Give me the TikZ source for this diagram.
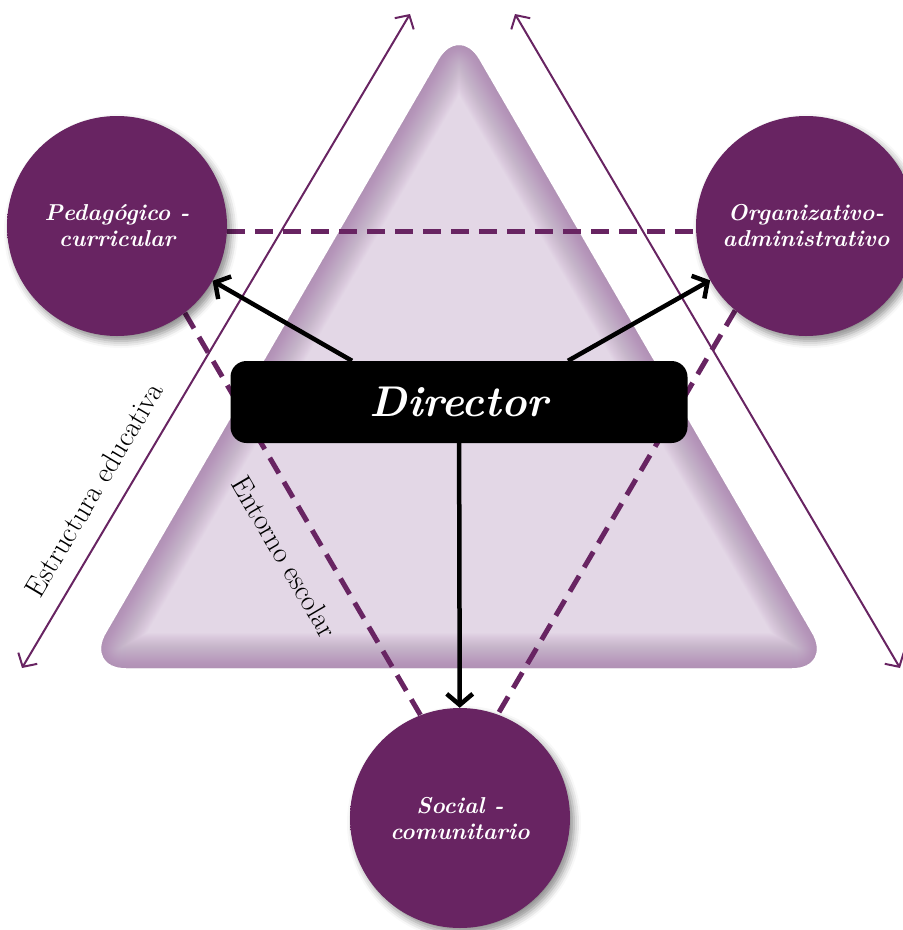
\documentclass[tikz,border=0pt]{standalone}
\usepackage{fontspec}
\usetikzlibrary{arrows.meta,calc,shadows.blur}
\definecolor{plum}{RGB}{104,36,98}
\definecolor{plumdark}{RGB}{76,22,72}
\definecolor{lilac}{RGB}{227,215,230}
\definecolor{lilacdark}{RGB}{146,100,152}
\pgfdeclareradialshading{ballshade}{\pgfpoint{0bp}{0bp}}{color(0bp)=(plum); color(30bp)=(plum); color(50bp)=(plumdark)}
\pgfdeclarelayer{background}
\pgfsetlayers{background,main}
\begin{document}
\begin{tikzpicture}[x=1pt,y=-1pt,
	ball/.style={circle, minimum size=220pt, inner sep=0pt, shading=ballshade, text=white, align=center,
		font=\fontsize{23}{26}\selectfont\bfseries\itshape,
		blur shadow={shadow xshift=4pt, shadow yshift=-5pt, shadow blur radius=7pt, shadow opacity=45}},
	boss/.style={rectangle, rounded corners=16pt, fill=black, text=white, minimum width=457pt, minimum height=82pt,
		font=\fontsize{43}{48}\selectfont\bfseries\itshape},
	bossarrow/.style={draw=black, line width=4.5pt, ->, >={Straight Barb[length=11pt,width=26pt]}},
	long/.style={draw=plum, line width=2pt, <->, >={Straight Barb[length=10pt,width=22pt]}},
	dashline/.style={draw=plum, line width=5pt, dash pattern=on 18pt off 10pt},
	sidetext/.style={font=\fontsize{29}{34}\selectfont, text=black}]
	\useasboundingbox (0,0) rectangle (903,930);

	\node[ball] (ped) at (117,226) {Pedagógico -\\curricular};
	\node[ball] (org) at (806,226) {Organizativo-\\administrativo};
	\node[ball] (soc) at (460,818) {Social -\\comunitario};
	\node[boss] (dir) at (459,402) {Director};

	\coordinate (sw) at (22,668);
	\coordinate (nw) at (410,14);
	\coordinate (ne) at (515,14);
	\coordinate (se) at (900,668);

	\begin{pgfonlayer}{background}
		% triangle with a soft inner edge
		\begin{scope}
			\clip[rounded corners=40pt] (459,25) -- (832,668) -- (86,668) -- cycle;
			\fill[lilac] (0,0) rectangle (903,930);
			\foreach \w in {2,4,...,70}
				\draw[lilacdark, opacity=.02, line width=\w pt, rounded corners=40pt] (459,25) -- (832,668) -- (86,668) -- cycle;
		\end{scope}
		\draw[long] (sw) -- node[sloped, above=15pt, pos=.25, sidetext] {Estructura educativa} (nw);
		\draw[long] (ne) -- (se);
		\draw[dashline] (ped.-3) -- (org.183);
		\draw[dashline] (ped.-52) -- node[sloped, below=21pt, pos=.56, sidetext] {Entorno escolar} (soc.111);
		\draw[dashline] (org.230) -- (soc.70);
	\end{pgfonlayer}

	\draw[bossarrow] ($(dir.north)+(-107,0)$) -- (ped);
	\draw[bossarrow] ($(dir.north)+(109,0)$) -- (org);
	\draw[bossarrow] (dir) -- (soc);
\end{tikzpicture}
\end{document}
